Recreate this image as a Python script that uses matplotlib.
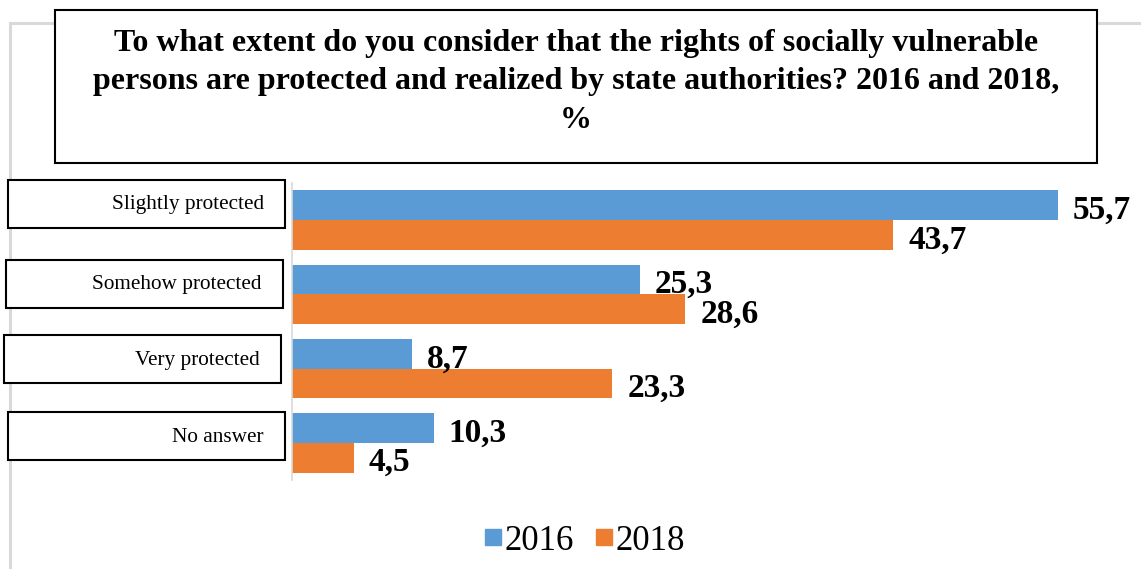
import numpy as np
import matplotlib.pyplot as plt
from matplotlib.patches import Rectangle
from matplotlib.lines import Line2D

plt.rcParams['font.family'] = ['Liberation Serif', 'DejaVu Serif']

categories = ['Slightly protected', 'Somehow protected', 'Very protected', 'No answer']
values_2016 = [55.7, 25.3, 8.7, 10.3]
values_2018 = [43.7, 28.6, 23.3, 4.5]
years = ['2016', '2018']
title = ('To what extent do you consider that the rights of socially vulnerable\n'
         'persons are protected and realized by state authorities? 2016 and 2018,\n%')

c16 = '#5B9BD5'
c18 = '#ED7D31'
W, H = 1141, 569

fig = plt.figure(figsize=(W / 100, H / 100), dpi=100)


def fx(px):
    return px / W


def fy(py):
    return 1 - py / H


# outer chart frame (light grey), sits behind the pasted boxes
fig.add_artist(Line2D([fx(10), 1], [fy(23), fy(23)], color='#d9d9d9', lw=2.2, zorder=0.5))
fig.add_artist(Line2D([fx(10), fx(10)], [fy(23), 0], color='#d9d9d9', lw=2.2, zorder=0.5))

ax = fig.add_axes([fx(292), fy(480), fx(1131) - fx(292), fy(183) - fy(480)])
y = np.arange(len(categories))
h = 0.4
ax.barh(y - h / 2, values_2016, height=h, color=c16, label=years[0])
ax.barh(y + h / 2, values_2018, height=h, color=c18, label=years[1])
ax.set_ylim(len(categories) - 0.5, -0.5)
ax.set_xlim(0, 61)
for s in ['top', 'right', 'bottom']:
    ax.spines[s].set_visible(False)
ax.spines['left'].set_color('#d9d9d9')
ax.spines['left'].set_linewidth(1.2)
ax.set_xticks([])
ax.set_yticks([])

for i in range(len(categories)):
    ax.annotate(f'{values_2016[i]:.1f}'.replace('.', ','), (values_2016[i], y[i] - h / 2),
                xytext=(15, -5), textcoords='offset pixels', va='center', ha='left',
                fontsize=24, fontweight='bold')
    ax.annotate(f'{values_2018[i]:.1f}'.replace('.', ','), (values_2018[i], y[i] + h / 2),
                xytext=(15, -5), textcoords='offset pixels', va='center', ha='left',
                fontsize=24, fontweight='bold')

# category label boxes
boxes = [(8, 180), (6, 260), (4, 335), (8, 412)]
for (bx, by), lab in zip(boxes, categories):
    fig.add_artist(Rectangle((fx(bx), fy(by + 48)), fx(277), 48 / H, transform=fig.transFigure,
                             facecolor='white', edgecolor='black', lw=1.5, zorder=3))
    fig.text(fx(bx + 256), fy(by + 25), lab, ha='right', va='center', fontsize=15.3, zorder=4)

# title box
fig.add_artist(Rectangle((fx(55), fy(163)), fx(1042), 153 / H, transform=fig.transFigure,
                         facecolor='white', edgecolor='black', lw=1.5, zorder=3))
fig.text(fx(576), fy(82), title, ha='center', va='center', fontsize=23,
         fontweight='bold', linespacing=1.42, zorder=4)

handles = [Line2D([], [], marker='s', ls='', color=c16, markersize=11),
           Line2D([], [], marker='s', ls='', color=c18, markersize=11)]
fig.legend(handles, years, loc='center', bbox_to_anchor=(fx(583), fy(541)), ncol=2,
           frameon=False, fontsize=25, handletextpad=0.0, columnspacing=0.5,
           handlelength=0.7)

fig.savefig('out.png', dpi=100)
